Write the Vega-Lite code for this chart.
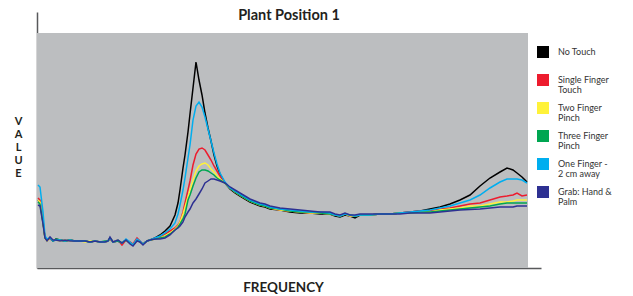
{
  "$schema": "https://vega.github.io/schema/vega-lite/v6.json",
  "autosize": {"type": "none"},
  "padding": {"left": 37, "top": 12, "right": 92, "bottom": 28},
  "width": 504,
  "height": 256,
  "background": "white",
  "config": {"view": {"stroke": null}},
  "title": {"text": "Plant Position 1", "font": "Lato", "fontSize": 14.5, "fontWeight": "bold", "color": "#231f20", "anchor": "middle", "baseline": "alphabetic", "offset": -22},
  "datasets": {
    "bg": [{"x1": 0, "x2": 491, "y1": 0, "y2": 235}],
    "curves": [
      {"f":1,"NT":68,"SF":70,"TF":68,"TH":66,"OF":83,"GR":63},
      {"f":3,"NT":66,"SF":68,"TF":66,"TH":64,"OF":81,"GR":62},
      {"f":6,"NT":46,"SF":48,"TF":46,"TH":45,"OF":56,"GR":44},
      {"f":8,"NT":30,"SF":30,"TF":30,"TH":30,"OF":32,"GR":30},
      {"f":10,"NT":28,"SF":28,"TF":27,"TH":28,"OF":29,"GR":27},
      {"f":13,"NT":30,"SF":29,"TF":30,"TH":30,"OF":30,"GR":31},
      {"f":16,"NT":27,"SF":27,"TF":28,"TH":27,"OF":27,"GR":28},
      {"f":19,"NT":29,"SF":28,"TF":28,"TH":29,"OF":28,"GR":28},
      {"f":23,"NT":28,"SF":28,"TF":27,"TH":28,"OF":28,"GR":27},
      {"f":28,"NT":27,"SF":27,"TF":28,"TH":27,"OF":27,"GR":28},
      {"f":33,"NT":28,"SF":28,"TF":27,"TH":28,"OF":28,"GR":27},
      {"f":38,"NT":27,"SF":27,"TF":27,"TH":27,"OF":27,"GR":27},
      {"f":43,"NT":27,"SF":27,"TF":27,"TH":27,"OF":27,"GR":27},
      {"f":48,"NT":27,"SF":27,"TF":26,"TH":27,"OF":27,"GR":27},
      {"f":53,"NT":26,"SF":26,"TF":27,"TH":26,"OF":26,"GR":26},
      {"f":58,"NT":27,"SF":27,"TF":27,"TH":27,"OF":27,"GR":27},
      {"f":63,"NT":26,"SF":26,"TF":26,"TH":26,"OF":26,"GR":26},
      {"f":68,"NT":26,"SF":26,"TF":26,"TH":27,"OF":26,"GR":26},
      {"f":71,"NT":27,"SF":27,"TF":27,"TH":27,"OF":27,"GR":27},
      {"f":73,"NT":30,"SF":29,"TF":30,"TH":30,"OF":30,"GR":31},
      {"f":76,"NT":26,"SF":26,"TF":26,"TH":26,"OF":26,"GR":26},
      {"f":81,"NT":27,"SF":28,"TF":28,"TH":27,"OF":28,"GR":28},
      {"f":85,"NT":25,"SF":23,"TF":25,"TH":25,"OF":25,"GR":25},
      {"f":89,"NT":28,"SF":28,"TF":28,"TH":28,"OF":29,"GR":28},
      {"f":93,"NT":25,"SF":26,"TF":25,"TH":25,"OF":26,"GR":24},
      {"f":96,"NT":23,"SF":24,"TF":23,"TH":23,"OF":23,"GR":22},
      {"f":100,"NT":28,"SF":30,"TF":28,"TH":28,"OF":29,"GR":27},
      {"f":103,"NT":26,"SF":27,"TF":26,"TH":26,"OF":27,"GR":26},
      {"f":106,"NT":24,"SF":24,"TF":24,"TH":24,"OF":24,"GR":23},
      {"f":110,"NT":27,"SF":27,"TF":27,"TH":27,"OF":27,"GR":27},
      {"f":113,"NT":28,"SF":28,"TF":28,"TH":28,"OF":28,"GR":28},
      {"f":118,"NT":30,"SF":29,"TF":29,"TH":29,"OF":30,"GR":29},
      {"f":123,"NT":33,"SF":31,"TF":30,"TH":30,"OF":32,"GR":29},
      {"f":128,"NT":37,"SF":34,"TF":32,"TH":31,"OF":35,"GR":30},
      {"f":133,"NT":42,"SF":37,"TF":35,"TH":34,"OF":39,"GR":33},
      {"f":138,"NT":53,"SF":40,"TF":39,"TH":38,"OF":45,"GR":38},
      {"f":141,"NT":65,"SF":43,"TF":42,"TH":41,"OF":54,"GR":40},
      {"f":143,"NT":78,"SF":46,"TF":46,"TH":44,"OF":63,"GR":42},
      {"f":146,"NT":100,"SF":56,"TF":54,"TH":49,"OF":78,"GR":46},
      {"f":148,"NT":113,"SF":65,"TF":61,"TH":54,"OF":90,"GR":51},
      {"f":151,"NT":136,"SF":78,"TF":71,"TH":68,"OF":110,"GR":56},
      {"f":153,"NT":154,"SF":87,"TF":78,"TH":73,"OF":123,"GR":59},
      {"f":156,"NT":180,"SF":103,"TF":88,"TH":82,"OF":148,"GR":65},
      {"f":159,"NT":206,"SF":114,"TF":97,"TH":90,"OF":162,"GR":69},
      {"f":162,"NT":188,"SF":119,"TF":102,"TH":96,"OF":166,"GR":74},
      {"f":165,"NT":173,"SF":120,"TF":104,"TH":98,"OF":161,"GR":79},
      {"f":168,"NT":155,"SF":118,"TF":105,"TH":98,"OF":151,"GR":85},
      {"f":171,"NT":140,"SF":113,"TF":103,"TH":97,"OF":139,"GR":87},
      {"f":174,"NT":127,"SF":108,"TF":99,"TH":95,"OF":127,"GR":89},
      {"f":177,"NT":113,"SF":102,"TF":96,"TH":93,"OF":115,"GR":89},
      {"f":180,"NT":102,"SF":97,"TF":92,"TH":90,"OF":104,"GR":88},
      {"f":183,"NT":94,"SF":92,"TF":89,"TH":88,"OF":95,"GR":87},
      {"f":188,"NT":85,"SF":85,"TF":85,"TH":85,"OF":86,"GR":85},
      {"f":193,"NT":79,"SF":80,"TF":80,"TH":80,"OF":80,"GR":81},
      {"f":198,"NT":75,"SF":76,"TF":76,"TH":76,"OF":77,"GR":78},
      {"f":203,"NT":72,"SF":73,"TF":73,"TH":73,"OF":74,"GR":75},
      {"f":208,"NT":69,"SF":70,"TF":70,"TH":70,"OF":71,"GR":72},
      {"f":213,"NT":66,"SF":67,"TF":67,"TH":67,"OF":68,"GR":69},
      {"f":218,"NT":64,"SF":65,"TF":65,"TH":65,"OF":66,"GR":67},
      {"f":223,"NT":62,"SF":63,"TF":63,"TH":63,"OF":64,"GR":65},
      {"f":228,"NT":61,"SF":62,"TF":62,"TH":62,"OF":63,"GR":64},
      {"f":233,"NT":59,"SF":60,"TF":60,"TH":60,"OF":61,"GR":62},
      {"f":243,"NT":58,"SF":58,"TF":58,"TH":59,"OF":59,"GR":60},
      {"f":253,"NT":56,"SF":57,"TF":57,"TH":57,"OF":58,"GR":59},
      {"f":263,"NT":55,"SF":56,"TF":56,"TH":56,"OF":57,"GR":58},
      {"f":273,"NT":55,"SF":55,"TF":55,"TH":56,"OF":56,"GR":57},
      {"f":283,"NT":54,"SF":55,"TF":55,"TH":55,"OF":56,"GR":56},
      {"f":293,"NT":54,"SF":54,"TF":54,"TH":54,"OF":55,"GR":56},
      {"f":298,"NT":52,"SF":53,"TF":53,"TH":53,"OF":53,"GR":54},
      {"f":303,"NT":51,"SF":52,"TF":52,"TH":52,"OF":52,"GR":53},
      {"f":308,"NT":53,"SF":54,"TF":54,"TH":54,"OF":54,"GR":55},
      {"f":313,"NT":52,"SF":52,"TF":52,"TH":53,"OF":53,"GR":53},
      {"f":318,"NT":50,"SF":52,"TF":52,"TH":52,"OF":52,"GR":53},
      {"f":323,"NT":53,"SF":53,"TF":53,"TH":53,"OF":53,"GR":54},
      {"f":333,"NT":53,"SF":53,"TF":53,"TH":53,"OF":53,"GR":54},
      {"f":343,"NT":54,"SF":54,"TF":54,"TH":54,"OF":54,"GR":54},
      {"f":353,"NT":54,"SF":54,"TF":54,"TH":54,"OF":54,"GR":54},
      {"f":363,"NT":55,"SF":55,"TF":55,"TH":55,"OF":55,"GR":54},
      {"f":373,"NT":56,"SF":56,"TF":55,"TH":55,"OF":56,"GR":55},
      {"f":383,"NT":57,"SF":57,"TF":56,"TH":56,"OF":57,"GR":55},
      {"f":393,"NT":59,"SF":57,"TF":56,"TH":56,"OF":58,"GR":55},
      {"f":403,"NT":61,"SF":59,"TF":58,"TH":57,"OF":60,"GR":56},
      {"f":413,"NT":64,"SF":60,"TF":59,"TH":58,"OF":62,"GR":57},
      {"f":423,"NT":68,"SF":62,"TF":60,"TH":59,"OF":65,"GR":58},
      {"f":433,"NT":73,"SF":64,"TF":62,"TH":60,"OF":68,"GR":58.5},
      {"f":443,"NT":82,"SF":65,"TF":62,"TH":61,"OF":73,"GR":59},
      {"f":453,"NT":90,"SF":68,"TF":64,"TH":62,"OF":80,"GR":60},
      {"f":463,"NT":96,"SF":71,"TF":66,"TH":64,"OF":86,"GR":61},
      {"f":470,"NT":100,"SF":72,"TF":66,"TH":65,"OF":89,"GR":61},
      {"f":476,"NT":98,"SF":73,"TF":67,"TH":65,"OF":89,"GR":61},
      {"f":480,"NT":95,"SF":75,"TF":68,"TH":65,"OF":89,"GR":62},
      {"f":485,"NT":91,"SF":72,"TF":68,"TH":65,"OF":88,"GR":62},
      {"f":490,"NT":86,"SF":73,"TF":68,"TH":65,"OF":85,"GR":62}
    ]
  },
  "layer": [
    {
      "data": {"name": "bg"},
      "mark": {"type": "rect", "color": "#bcbec0"},
      "encoding": {
        "x": {"field": "x1", "type": "quantitative", "scale": {"domain": [0, 504], "nice": false, "zero": false},
          "axis": {"title": "FREQUENCY", "domain": true, "domainColor": "#58595b", "domainWidth": 1.5, "ticks": false, "labels": false, "grid": false,
            "titleFont": "Lato", "titleFontSize": 13.5, "titleFontWeight": "bold", "titleColor": "#231f20", "titleX": 246, "titleY": 23, "titleBaseline": "alphabetic", "titleAlign": "center"}},
        "x2": {"field": "x2"},
        "y": {"field": "y1", "type": "quantitative", "scale": {"domain": [0, 256], "nice": false, "zero": false},
          "axis": {"title": ["V", "A", "L", "U", "E"], "domain": true, "domainColor": "#58595b", "domainWidth": 1.5, "ticks": false, "labels": false, "grid": false,
            "titleFont": "Lato", "titleFontSize": 11, "titleFontWeight": "bold", "titleColor": "#231f20", "titleAngle": 0, "titleX": -19, "titleY": 103, "titleAlign": "center", "titleBaseline": "top", "titleLineHeight": 13}},
        "y2": {"field": "y2"}
      }
    },
    {
      "data": {"name": "curves"},
      "transform": [{"fold": ["NT", "SF", "TF", "TH", "OF", "GR"], "as": ["series", "value"]}],
      "mark": {"type": "line", "strokeWidth": 1.5, "clip": true},
      "encoding": {
        "x": {"field": "f", "type": "quantitative", "scale": {"domain": [0, 504], "nice": false, "zero": false},
          "axis": {"title": "FREQUENCY", "domain": true, "domainColor": "#58595b", "domainWidth": 1.5, "ticks": false, "labels": false, "grid": false,
            "titleFont": "Lato", "titleFontSize": 13.5, "titleFontWeight": "bold", "titleColor": "#231f20", "titleX": 246, "titleY": 23, "titleBaseline": "alphabetic", "titleAlign": "center"}},
        "y": {"field": "value", "type": "quantitative", "scale": {"domain": [0, 256], "nice": false, "zero": false},
          "axis": {"title": ["V", "A", "L", "U", "E"], "domain": true, "domainColor": "#58595b", "domainWidth": 1.5, "ticks": false, "labels": false, "grid": false,
            "titleFont": "Lato", "titleFontSize": 11, "titleFontWeight": "bold", "titleColor": "#231f20", "titleAngle": 0, "titleX": -19, "titleY": 103, "titleAlign": "center", "titleBaseline": "top", "titleLineHeight": 13}},
        "color": {"field": "series", "type": "nominal",
          "scale": {"domain": ["NT", "SF", "TF", "TH", "OF", "GR"], "range": ["#000000", "#ed1c2e", "#fff23a", "#00a651", "#00aeef", "#2e3192"]},
          "legend": {"title": null, "orient": "none", "legendX": 500, "legendY": 34, "padding": 0,
            "symbolType": "square", "symbolSize": 144, "symbolStrokeWidth": 0, "symbolOpacity": 1,
            "labelFont": "Lato", "labelFontSize": 9, "labelColor": "#333333", "labelOffset": 9, "labelBaseline": "middle", "labelLimit": 100,
            "rowPadding": 7, "gridAlign": "all",
            "encode": {
              "symbols": {"update": {"fill": {"scale": "color", "field": "value"}, "fillOpacity": {"value": 1}, "strokeWidth": {"value": 0}}},
              "labels": {"update": {"lineHeight": {"value": 10}}}
            },
            "labelExpr": "datum.label == 'NT' ? 'No Touch' : datum.label == 'SF' ? ['Single Finger', 'Touch'] : datum.label == 'TF' ? ['Two Finger', 'Pinch'] : datum.label == 'TH' ? ['Three Finger', 'Pinch'] : datum.label == 'OF' ? ['One Finger -', '2 cm  away'] : ['Grab: Hand &', 'Palm']"}}
      }
    }
  ]
}
